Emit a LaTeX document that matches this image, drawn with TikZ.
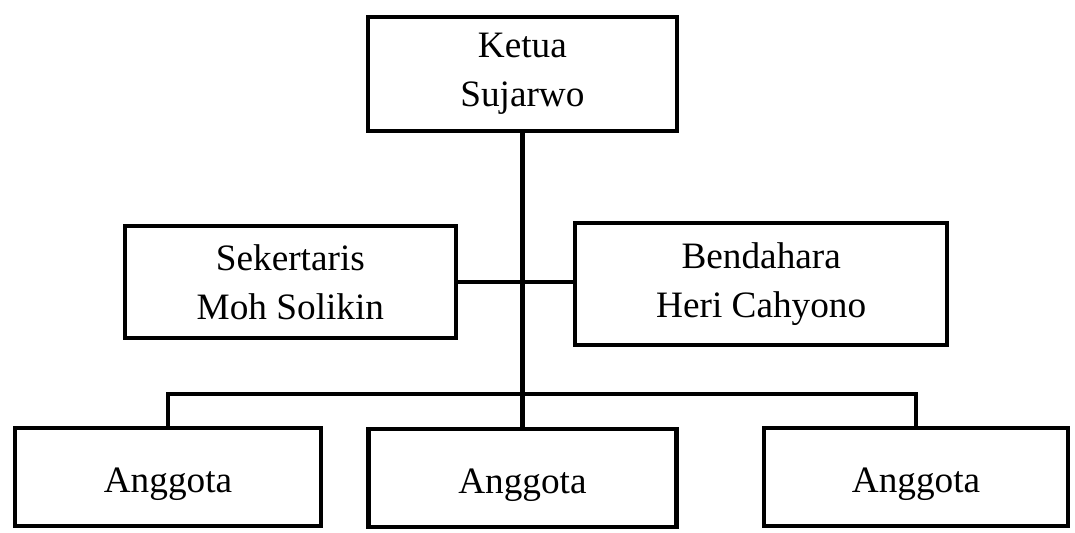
\documentclass[tikz,border=0pt]{standalone}
\usepackage{fontspec}
\setmainfont{Liberation Serif}
\usepackage{tikz}
\usetikzlibrary{positioning, calc}

\begin{document}
\begin{tikzpicture}[
    jabatan/.style={rectangle, draw=black, line width=3.2pt, fill=white, align=center,
                    font=\fontsize{26.5}{34.5}\selectfont, inner sep=0pt},
    anggota/.style={jabatan, minimum height=2.45cm, text height=0.88cm, text depth=0.1cm},
    garis/.style={line width=3.2pt, color=black}
  ]
    \useasboundingbox (0,0) rectangle (26.875,-13.3);

    \node[jabatan, minimum width=7.73cm, minimum height=2.85cm] (ketua)      at (13.06, -1.85) {Ketua\\Sujarwo};
    \node[jabatan, minimum width=8.28cm, minimum height=2.8cm]  (sekertaris) at (7.26, -7.05)  {Sekertaris\\Moh Solikin};
    \node[jabatan, minimum width=9.3cm,  minimum height=3.05cm] (bendahara)  at (19.03, -7.1)  {Bendahara\\Heri Cahyono};

    \node[anggota, minimum width=7.65cm] (anggota1) at (4.2, -11.93)  {Anggota};
    \node[anggota, minimum width=7.7cm]  (anggota2) at (13.06, -11.95) {Anggota};
    \node[anggota, minimum width=7.6cm]  (anggota3) at (22.9, -11.93)  {Anggota};

    \coordinate (bus) at (13.06, -9.85);

    \draw[garis] (sekertaris.east) -- (sekertaris.east -| bendahara.west);
    \draw[garis] (ketua.south) -- (bus);
    \draw[garis] (anggota1.north) |- (bus) -| (anggota3.north);
    \draw[garis] (bus) -- (anggota2.north);
  \end{tikzpicture}
\end{document}
